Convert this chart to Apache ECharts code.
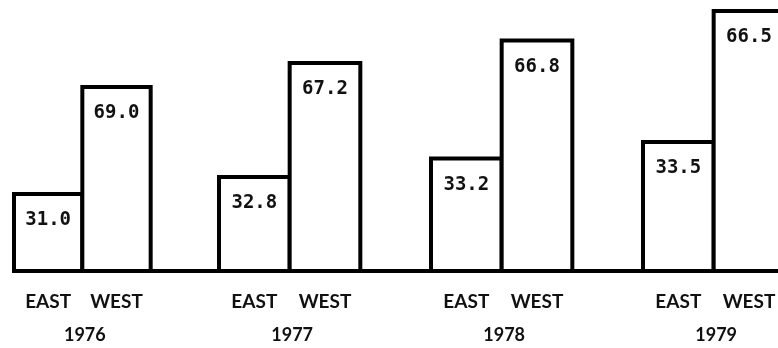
<!DOCTYPE html>
<html>
<head>
<meta charset="utf-8">
<script src="https://cdn.jsdelivr.net/npm/echarts@6/dist/echarts.min.js"></script>
<style>
  html, body { margin: 0; padding: 0; background: #ffffff; }
  #chart { width: 778px; height: 348px; }
</style>
</head>
<body>
<div id="chart"></div>
<script>
// Share of total (%) by region, per year
const years = ['1976', '1977', '1978', '1979'];
const regions = ['EAST', 'WEST'];
const eastShare = [31.0, 32.8, 33.2, 33.5];
const westShare = [69.0, 67.2, 66.8, 66.5];

// Every year panel carries its own value range
const panelMin = [2.94, 3.83, 0, 0];
const panelMax = [99.18, 85.60, 77.8, 68.77];

// Panel placement (px); the last panel runs past the right edge.
// Panels whose range starts above zero have their bars cut at the grid
// edge, the others stop a half-border short, so the base line is shifted
// to sit on the bar bottoms in both cases.
const layout = {
  left: [14, 219, 431, 643],
  width: [205, 212, 212, 212],
  top: 0,
  bottom: [77, 77, 75, 75],
  axisOffset: [0, 0, -2, -2]
};
const border = 4;

const labelFont = "Lato, 'Liberation Sans', sans-serif";
const valueFont = "'DejaVu Sans Mono', monospace";

const grid = [], xAxis = [], yAxis = [], series = [];

years.forEach((year, i) => {
  const band = layout.width[i] / 3;
  const shift = layout.axisOffset[i];
  grid.push({
    left: layout.left[i],
    width: layout.width[i],
    top: layout.top,
    bottom: layout.bottom[i],
    outerBoundsMode: 'none'
  });
  xAxis.push({
    type: 'category',
    gridIndex: i,
    data: regions.concat(['']),
    offset: shift,
    axisLine: { show: true, lineStyle: { color: '#000', width: border } },
    axisTick: { show: false },
    axisLabel: {
      interval: 0,
      margin: 21,
      color: '#111',
      fontFamily: labelFont,
      fontWeight: 'bold',
      fontSize: 19
    },
    name: year,
    nameLocation: 'middle',
    nameGap: 55,
    nameTextStyle: {
      color: '#111',
      fontFamily: labelFont,
      fontWeight: 'bold',
      fontSize: 18,
      padding: [0, band - 5, 0, 0]
    }
  });
  yAxis.push({
    type: 'value',
    gridIndex: i,
    min: panelMin[i],
    max: panelMax[i],
    show: false,
    splitLine: { show: false }
  });
  series.push({
    type: 'bar',
    xAxisIndex: i,
    yAxisIndex: i,
    data: [eastShare[i], westShare[i], '-'],
    // widen by the border so neighbouring outlines share one edge
    barWidth: band + border,
    clip: true,
    itemStyle: { color: '#ffffff', borderColor: '#000000', borderWidth: border },
    label: {
      show: true,
      position: 'insideTop',
      distance: 19,
      formatter: p => p.value.toFixed(1),
      color: '#111',
      fontFamily: valueFont,
      fontWeight: 'bold',
      fontSize: 19
    },
    emphasis: { disabled: true },
    silent: true
  });
});

const chart = echarts.init(document.getElementById('chart'), null, { renderer: 'canvas' });
chart.setOption({
  animation: false,
  backgroundColor: '#ffffff',
  grid, xAxis, yAxis, series
});
</script>
</body>
</html>
